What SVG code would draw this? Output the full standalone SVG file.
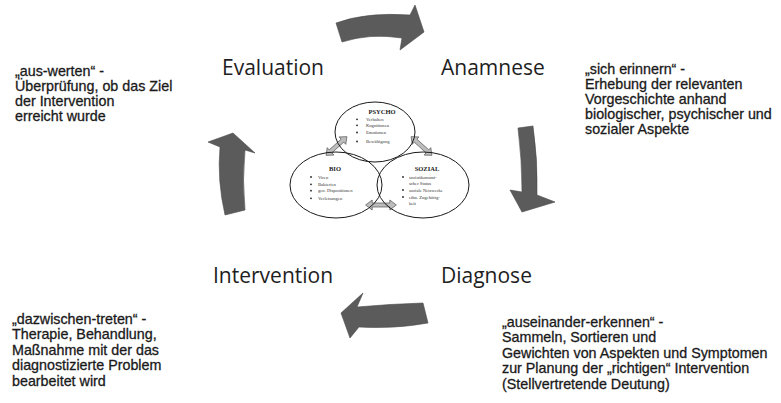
<svg xmlns="http://www.w3.org/2000/svg" width="781" height="403" viewBox="0 0 781 403">
<defs>
<style>
.lbl{font-family:"Open Sans","Liberation Sans",sans-serif;font-size:21px;fill:#1e1e1e}
.desc{font-family:"Liberation Sans","DejaVu Sans",sans-serif;font-size:14.3px;fill:#1a1a1a;stroke:#1a1a1a;stroke-width:0.3}
.big{fill:#5b5b5b;stroke:#4a4a4a;stroke-width:0.6}
.ell{fill:none;stroke:#1a1a1a;stroke-width:1}
.hd{font-family:"Liberation Serif",serif;font-size:6.5px;font-weight:bold;fill:#222;text-anchor:middle}
.it{font-family:"Liberation Serif",serif;font-size:4.6px;fill:#333}
.bul{fill:#222}
.dbl{fill:#bdbdbd;stroke:#444;stroke-width:0.6}
</style>
<polygon id="dblArrow" points="-14,0 -8,-5 -8,-2 8,-2 8,-5 14,0 8,5 8,2 -8,2 -8,5"/>
</defs>
<rect width="781" height="403" fill="#ffffff"/>

<g id="connectors">
<path id="arrow-top" class="big" d="M336,23 Q365,12 410,15 L415,5 L424,32 L400,50 L402,38 Q370,33 342,42 Z"/>
<path id="arrow-right" class="big" d="M518,128 L533,126 Q538,160 537,195 L555,202 L522,212 L510,190 L522,192 Q522,160 518,128 Z"/>
<path id="arrow-bottom" class="big" d="M423,303 Q390,304 357,307 L363,293 L341,313 L350,338 L359,327 Q395,329 428,323 Z"/>
<path id="arrow-left" class="big" d="M225,215 Q217,180 220,147 L208,142 L233,133 L255,153 L245,150 Q242,180 245,210 Z"/>
<use href="#dblArrow" class="dbl" transform="translate(336.5,146) rotate(-42)"/>
<use href="#dblArrow" class="dbl" transform="translate(421.5,146) rotate(42)"/>
<use href="#dblArrow" class="dbl" transform="translate(381,205) scale(1.1,1)"/>
</g>

<g id="node-evaluation">
<text class="lbl" x="222" y="75">Evaluation</text>
<text class="desc" x="15" y="76">„aus-werten“ -</text>
<text class="desc" x="15" y="91">Überprüfung, ob das Ziel</text>
<text class="desc" x="15" y="106">der Intervention</text>
<text class="desc" x="15" y="121">erreicht wurde</text>
</g>

<g id="node-anamnese">
<text class="lbl" x="441" y="75">Anamnese</text>
<text class="desc" x="585" y="74">„sich erinnern“ -</text>
<text class="desc" x="585" y="89">Erhebung der relevanten</text>
<text class="desc" x="585" y="104">Vorgeschichte anhand</text>
<text class="desc" x="585" y="119">biologischer, psychischer und</text>
<text class="desc" x="585" y="134">sozialer Aspekte</text>
</g>

<g id="node-diagnose">
<text class="lbl" x="441" y="283">Diagnose</text>
<text class="desc" x="502" y="327">„auseinander-erkennen“ -</text>
<text class="desc" x="502" y="342">Sammeln, Sortieren und</text>
<text class="desc" x="502" y="358">Gewichten von Aspekten und Symptomen</text>
<text class="desc" x="502" y="373">zur Planung der „richtigen“ Intervention</text>
<text class="desc" x="502" y="389">(Stellvertretende Deutung)</text>
</g>

<g id="node-intervention">
<text class="lbl" x="213" y="283">Intervention</text>
<text class="desc" x="12" y="324">„dazwischen-treten“ -</text>
<text class="desc" x="12" y="339">Therapie, Behandlung,</text>
<text class="desc" x="12" y="355">Maßnahme mit der das</text>
<text class="desc" x="12" y="370">diagnostizierte Problem</text>
<text class="desc" x="12" y="386">bearbeitet wird</text>
</g>

<g id="node-psycho">
<ellipse class="ell" cx="375" cy="132" rx="40" ry="30"/>
<text class="hd" x="382" y="114">PSYCHO</text>
<circle class="bul" cx="357" cy="119.3" r="0.9"/><text class="it" x="366" y="120.8">Verhalten</text>
<circle class="bul" cx="357" cy="125.3" r="0.9"/><text class="it" x="366" y="126.8">Kognitionen</text>
<circle class="bul" cx="357" cy="132.5" r="0.9"/><text class="it" x="366" y="134">Emotionen</text>
<circle class="bul" cx="357" cy="141.5" r="0.9"/><text class="it" x="366" y="143">Bewältigung</text>
</g>

<g id="node-bio">
<ellipse class="ell" cx="336" cy="185" rx="46" ry="33"/>
<text class="hd" x="335" y="171">BIO</text>
<circle class="bul" cx="311" cy="177" r="0.9"/><text class="it" x="318" y="178.5">Viren</text>
<circle class="bul" cx="311" cy="184.3" r="0.9"/><text class="it" x="318" y="185.8">Bakterien</text>
<circle class="bul" cx="311" cy="190.7" r="0.9"/><text class="it" x="318" y="192.2">gen. Dispositionen</text>
<circle class="bul" cx="311" cy="198.3" r="0.9"/><text class="it" x="318" y="199.8">Verletzungen</text>
</g>

<g id="node-sozial">
<ellipse class="ell" cx="423" cy="185" rx="46" ry="33"/>
<text class="hd" x="427" y="171">SOZIAL</text>
<circle class="bul" cx="403" cy="177" r="0.9"/><text class="it" x="409" y="178.5">sozioökonomi-</text>
<text class="it" x="409" y="184.5">scher Status</text>
<circle class="bul" cx="403" cy="190" r="0.9"/><text class="it" x="409" y="191.5">soziale Netzwerke</text>
<circle class="bul" cx="403" cy="197" r="0.9"/><text class="it" x="409" y="198.5">ethn. Zugehörig-</text>
<text class="it" x="409" y="204.5">keit</text>
</g>
</svg>
